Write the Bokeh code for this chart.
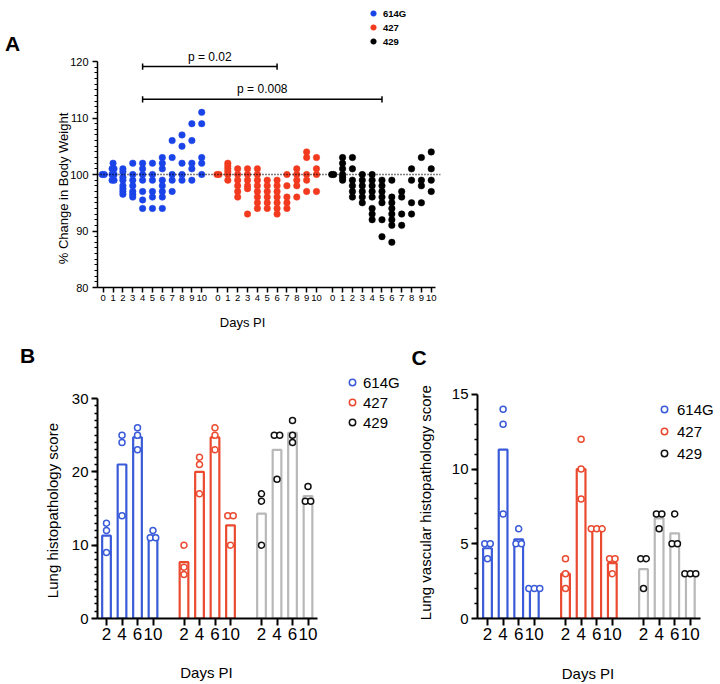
from bokeh.plotting import figure
from bokeh.layouts import column, row
from bokeh.models import Range1d, FixedTicker, Span, Label, Legend, LegendItem
from bokeh.embed import file_html
from bokeh.resources import INLINE
from bokeh.core.properties import value

FONT = "Liberation Sans"

# ---------------- data ----------------
variants = ["614G", "427", "429"]
days_a = list(range(11))

weight_614G = [
    [100, 100],
    [102, 101, 101, 100, 100, 99, 99],
    [101, 100.5, 99.5, 99, 98, 97.5, 97, 96.5],
    [102, 100, 99, 98, 97, 96.5, 96],
    [102, 101, 100, 99, 97, 95.5, 94],
    [102, 100, 99, 97, 96, 94],
    [103, 102, 101, 99, 98, 97, 96, 94],
    [106, 103, 100, 99, 97],
    [107, 105, 102, 100, 99],
    [109, 106, 102, 101, 99],
    [111, 109, 103, 102, 100],
]
weight_427 = [
    [100, 100],
    [102, 101.5, 101, 100.5, 100, 99],
    [101, 100, 99, 98, 97, 96],
    [101, 100, 99, 98, 97.5, 93],
    [101, 100, 99, 98, 97, 96, 95, 94],
    [99, 98, 97, 96, 95, 94],
    [99, 98, 97, 96, 95, 94, 93],
    [100, 98, 96, 95, 94],
    [101, 100, 99, 98, 96],
    [104, 103, 100, 99, 97],
    [103, 101, 100, 97],
]
weight_429 = [
    [100, 100],
    [103, 102, 101, 100, 99.5, 99],
    [103, 101, 99, 98, 97, 96],
    [100, 99, 98, 97, 96, 95],
    [100, 99, 98, 97, 96, 94, 93, 92],
    [99, 98, 97, 96, 95, 92, 89],
    [99, 96, 95, 94, 93, 92, 91, 88],
    [97, 96, 93, 91],
    [101, 99, 95, 93],
    [103, 99, 98, 95],
    [104, 101, 99, 97],
]
weights = [weight_614G, weight_427, weight_429]

# significance brackets: (variant index, day) -> (variant index, day), height, text
comparisons = [
    ((0, 4), (1, 6), 119.1, "p = 0.02"),
    ((0, 4), (2, 5), 113.3, "p = 0.008"),
]

days_b = [2, 4, 6, 10]
lung_614G = [[13, 12, 9], [25, 24, 14], [26, 25, 23], [12, 11, 11]]
lung_427 = [[10, 7, 6], [22, 21, 17], [26, 25, 23], [14, 14, 10]]
lung_429 = [[17, 16, 10], [25, 25, 19], [27, 25, 24], [18, 16, 16]]
lung_mean_614G = [11.3, 21.0, 24.7, 11.3]
lung_mean_427 = [7.7, 20.0, 24.7, 12.7]
lung_mean_429 = [14.3, 23.0, 25.3, 16.7]

vasc_614G = [[5, 5, 4], [14, 13, 7], [6, 5, 5], [2, 2, 2]]
vasc_427 = [[4, 3, 2], [12, 10, 8], [6, 6, 6], [4, 4, 3]]
vasc_429 = [[4, 4, 2], [7, 7, 6], [7, 5, 5], [3, 3, 3]]
vasc_mean_614G = [4.7, 11.3, 5.3, 2.0]
vasc_mean_427 = [3.0, 10.0, 6.0, 3.7]
vasc_mean_429 = [3.3, 6.7, 5.7, 3.0]

# ---------------- styles ----------------
dot_colors = ["#1a44e8", "#f23a1f", "#000000"]
pt_colors = ["#3a5bd9", "#ea4a2f", "#111111"]
bar_colors = ["#3a5bd9", "#ea4a2f", "#b8b8b8"]

GROUP_STRIDE_A = 11.65
GROUP_STRIDE_B = 5


def slot_a(g, d):
    return g * GROUP_STRIDE_A + d


def spread(groups_vals, centers, step):
    xs, ys = [], []
    for c, vals in zip(centers, groups_vals):
        counts = {}
        for v in vals:
            counts[v] = counts.get(v, 0) + 1
        seen = {}
        for v in vals:
            n = counts[v]
            k = seen.get(v, 0)
            seen[v] = k + 1
            xs.append(c + (k - (n - 1) / 2) * step)
            ys.append(v)
    return xs, ys


def base_style(p, lw):
    p.xgrid.visible = False
    p.ygrid.visible = False
    p.outline_line_color = None
    p.background_fill_color = "white"
    p.border_fill_color = "white"
    for ax in (p.xaxis[0], p.yaxis[0]):
        ax.axis_line_width = lw
        ax.axis_line_color = "black"
        ax.major_tick_line_width = lw
        ax.minor_tick_line_width = lw * 0.8
        ax.major_tick_line_color = "black"
        ax.minor_tick_line_color = "black"
        ax.major_tick_in = 0
        ax.minor_tick_in = 0
        ax.major_label_text_font = FONT
        ax.major_label_text_color = "black"


class Frame:
    """pixel geometry of a plot frame, used to place side texts"""
    def __init__(self, left, bottom, xr, yr, sx, sy):
        self.left, self.bottom, self.xr, self.yr, self.sx, self.sy = left, bottom, xr, yr, sx, sy

    def data(self, px, py):
        return (self.xr[0] + (px - self.left) / self.sx,
                self.yr[0] + (self.bottom - py) / self.sy)


def side_text(p, fr, side, px, py, text, size, angle=0.0, bold=False):
    x, y = fr.data(px, py)
    p.add_layout(Label(x=x, y=y, text=text, angle=angle,
                       text_align="center", text_baseline="middle",
                       text_font=FONT, text_font_size=size, text_color="black",
                       text_font_style="bold" if bold else "normal"), side)


# ---------------- Panel A ----------------
SA = 9.85
xrA = (-0.579, 34.24)
yrA = (80, 130.8)
frA = Frame(97, 287, xrA, yrA, SA, 5.65)

pA = figure(width=448, height=340, min_border_left=97, min_border_right=8,
            min_border_top=0, min_border_bottom=53,
            x_range=Range1d(*xrA), y_range=Range1d(*yrA),
            output_backend="svg", toolbar_location=None)
base_style(pA, 1.5)

rendA = []
for g, series in enumerate(weights):
    centers = [slot_a(g, d) for d in days_a]
    xs, ys = spread(series, centers, 0.2)
    r = pA.scatter(xs, ys, marker="circle", size=6.5, fill_color=dot_colors[g],
                   line_color=dot_colors[g], line_width=0.5)
    rendA.append(r)

pA.add_layout(Span(location=100, dimension="width", line_dash="1 2",
                   line_width=1.3, line_color="black"))

bx0, bx1, by, bt, tx, ty = [], [], [], [], [], []
cx, cy0, cy1 = [], [], []
for (g0, d0), (g1, d1), h, t in comparisons:
    x0 = slot_a(g0, d0)
    x1 = slot_a(g1, d1)
    bx0.append(x0); bx1.append(x1); by.append(h)
    tx.append((x0 + x1) / 2); ty.append(h); bt.append(t)
    cx += [x0, x1]; cy0 += [h - 0.55, h - 0.55]; cy1 += [h + 0.55, h + 0.55]
pA.segment(x0=bx0, y0=by, x1=bx1, y1=by, line_color="black", line_width=1.5)
pA.segment(x0=cx, y0=cy0, x1=cx, y1=cy1, line_color="black", line_width=1.5)
pA.text(x=tx, y=ty, text=bt, text_font=value(FONT), text_font_size="12px",
        text_align="center", text_baseline="bottom", y_offset=-3, text_color="black")

pA.yaxis[0].ticker = FixedTicker(ticks=[80, 90, 100, 110, 120], minor_ticks=list(range(81, 120)))
pA.yaxis[0].bounds = (80, 120)
pA.yaxis[0].major_tick_out = 5
pA.yaxis[0].minor_tick_out = 3
pA.yaxis[0].major_label_standoff = 4
pA.yaxis[0].major_label_text_font_size = "11px"

ticks_a = [slot_a(g, d) for g in range(3) for d in days_a]
pA.xaxis[0].ticker = FixedTicker(ticks=ticks_a, minor_ticks=[])
pA.xaxis[0].major_label_overrides = {slot_a(g, d): str(d) for g in range(3) for d in days_a}
pA.xaxis[0].bounds = (-0.579, 33.74)
pA.xaxis[0].major_tick_out = 5
pA.xaxis[0].major_label_standoff = 2
pA.xaxis[0].major_label_text_font_size = "9.5px"

side_text(pA, frA, "left", 12, 42.5, "A", "21px", bold=True)
side_text(pA, frA, "left", 63, 188, "% Change in Body Weight", "13px", angle=1.5707963)
side_text(pA, frA, "below", 242, 322, "Days PI", "13px")

legA = Legend(items=[LegendItem(label=variants[i], renderers=[rendA[i]]) for i in range(3)],
              location=(269, 238.7), orientation="vertical", padding=0, margin=0, spacing=0,
              glyph_width=14, glyph_height=14, label_height=14, label_standoff=3,
              label_text_font=FONT, label_text_font_size="9.5px", label_text_color="black",
              label_text_font_style="bold",
              border_line_color=None, background_fill_alpha=0)
pA.add_layout(legA)


# ---------------- Panels B & C ----------------
def bar_panel(width, left, right, fr, xbounds, ybounds, yticks, yminor,
              points, means, letter, letter_xy, ytitle, ytitle_xy, xtitle_xy,
              leg_loc, leg_h, leg_standoff):
    p = figure(width=width, height=344, min_border_left=left, min_border_right=right,
               min_border_top=0, min_border_bottom=66,
               x_range=Range1d(*fr.xr), y_range=Range1d(*fr.yr),
               output_backend="svg", toolbar_location=None)
    base_style(p, 2)
    rends = []
    ticks = []
    for g in range(3):
        centers = [g * GROUP_STRIDE_B + j for j in range(len(days_b))]
        ticks += centers
        p.vbar(x=centers, top=means[g], width=0.56, bottom=0, fill_color="white",
               line_color=bar_colors[g], line_width=2.2)
        xs, ys = spread(points[g], centers, 0.35)
        r = p.scatter(xs, ys, marker="circle", size=6, fill_color="white",
                      line_color=pt_colors[g], line_width=1.5)
        rends.append(r)
    p.xaxis[0].ticker = FixedTicker(ticks=ticks, minor_ticks=[])
    p.xaxis[0].major_label_overrides = {t: str(days_b[i % 4]) for i, t in enumerate(ticks)}
    p.xaxis[0].bounds = xbounds
    p.xaxis[0].major_tick_out = 7
    p.xaxis[0].major_label_standoff = 2
    p.xaxis[0].major_label_text_font_size = "17px"
    p.yaxis[0].ticker = FixedTicker(ticks=yticks, minor_ticks=yminor)
    p.yaxis[0].bounds = ybounds
    p.yaxis[0].major_tick_out = 6
    p.yaxis[0].minor_tick_out = 3
    p.yaxis[0].major_label_standoff = 3
    p.yaxis[0].major_label_text_font_size = "15px"
    side_text(p, fr, "left", letter_xy[0], letter_xy[1], letter, "21px", bold=True)
    side_text(p, fr, "left", ytitle_xy[0], ytitle_xy[1], ytitle, "15px", angle=1.5707963)
    side_text(p, fr, "below", xtitle_xy[0], xtitle_xy[1], "Days PI", "15px")
    leg = Legend(items=[LegendItem(label=variants[i], renderers=[rends[i]]) for i in range(3)],
                 location=leg_loc, orientation="vertical", padding=0, margin=0, spacing=2,
                 glyph_width=16, glyph_height=leg_h, label_height=leg_h,
                 label_standoff=leg_standoff,
                 label_text_font=FONT, label_text_font_size="15px", label_text_color="black",
                 border_line_color=None, background_fill_alpha=0)
    p.add_layout(leg)
    return p


SB = 15.5
frB = Frame(97, 618, (-0.581, 19.29), (0, 37.91), SB, 7.333)
SC = 15.6
frC = Frame(477, 618, (-0.641, 14.55), (0, 18.6), SC, 14.95)

pB = bar_panel(408, 97, 3, frB, (-0.581, 13.61), (0, 30),
               [0, 10, 20, 30], list(range(1, 30)),
               [lung_614G, lung_427, lung_429], [lung_mean_614G, lung_mean_427, lung_mean_429],
               "B", (27, 355), "Lung histopathology  score", (52, 508), (206, 672),
               (247, 187), 18, 3)

pC = bar_panel(312, 69, 6, frC, (-0.641, 13.65), (0, 15),
               [0, 5, 10, 15], list(range(1, 15)),
               [vasc_614G, vasc_427, vasc_429], [vasc_mean_614G, vasc_mean_427, vasc_mean_429],
               "C", (418.5, 356.5), "Lung vascular histopathology  score", (425, 500), (587.5, 673),
               (179, 155), 20, 5)

layout = column(pA, row(pB, pC))
open("out.html", "w").write(file_html(layout, INLINE))
